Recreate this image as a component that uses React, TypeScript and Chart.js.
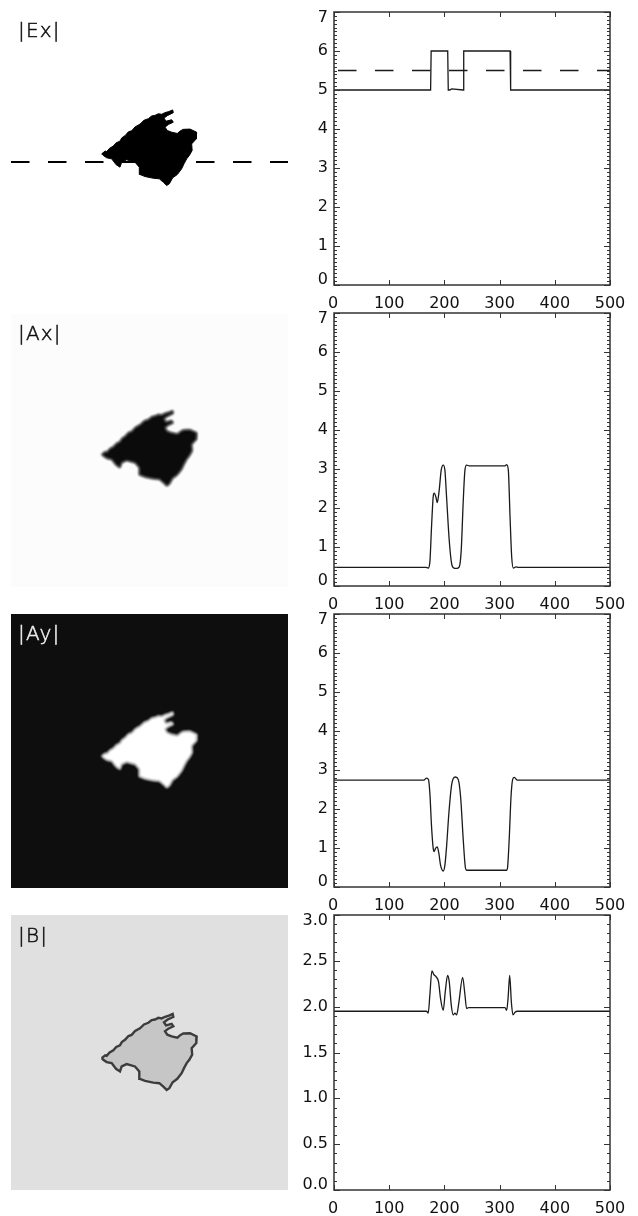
import React, { useEffect, useRef } from "react";
import { Chart, registerables } from "chart.js";

Chart.register(...registerables);

const xTicks = [0, 100, 200, 300, 400, 500];
const yTicksField = [0, 1, 2, 3, 4, 5, 6, 7];
const yTicksB = [0, 0.5, 1, 1.5, 2, 2.5, 3];

const exX = [0, 175, 176, 206, 207, 210, 213, 234, 235, 319, 320, 500];
const exY = [5, 5, 6, 6, 5, 5, 5.03, 5, 6, 6, 5, 5];
const cutX = [0, 500];
const cutY = [5.5, 5.5];

const axX = [0, 166.4, 170.6, 173.7, 176.7, 179.7, 181.5, 184.5, 187, 190.6, 194.2, 197.9, 200.9, 203.9, 208.7, 213, 217.2, 222, 226.9, 230.5, 234.2, 237.2, 240.2, 245, 309.8, 312.8, 315.8, 318.9, 321.9, 324.9, 329.7, 334, 500];
const axY = [0.48, 0.48, 0.46, 0.62, 1.52, 2.29, 2.38, 2.29, 2.14, 2.46, 2.97, 3.1, 2.97, 2.29, 1.18, 0.58, 0.46, 0.45, 0.49, 0.92, 2.2, 2.97, 3.1, 3.08, 3.08, 3.11, 2.97, 1.78, 0.75, 0.46, 0.49, 0.48, 0.48];

const ayX = [0, 162.8, 167.6, 171.2, 173.7, 176.7, 179.7, 181.5, 183.9, 187, 190, 193, 197.9, 200.9, 203.9, 208.1, 213, 216, 220.2, 225, 229.3, 234.2, 237.8, 240.2, 312.8, 314.6, 317.6, 320.7, 323.7, 326.7, 332.2, 500];
const ayY = [2.74, 2.74, 2.79, 2.75, 2.4, 1.55, 0.99, 0.91, 0.99, 1.03, 0.86, 0.56, 0.41, 0.56, 1.03, 1.89, 2.61, 2.78, 2.82, 2.76, 2.32, 1.2, 0.52, 0.43, 0.43, 0.52, 1.29, 2.32, 2.76, 2.81, 2.74, 2.74];

const bX = [0, 167.6, 170.7, 173.7, 177.3, 181, 185.8, 189.4, 193, 197.9, 201.5, 205.8, 208.8, 212.4, 216, 219.1, 222.1, 226.3, 233, 237.2, 240.2, 243.9, 309.8, 312.8, 315.3, 318.3, 321.3, 324.3, 328, 332.2, 500];
const bY = [1.95, 1.95, 1.93, 2.13, 2.39, 2.35, 2.32, 2.27, 2.09, 1.96, 2.16, 2.34, 2.27, 2.02, 1.91, 1.93, 1.91, 2.05, 2.32, 2.13, 1.98, 1.99, 1.99, 1.96, 2.09, 2.34, 2.05, 1.91, 1.94, 1.95, 1.95];

const islandX = [163.7, 170, 172.7, 178, 184.7, 190, 196.7, 200, 205.8, 212, 217.8, 224, 232.8, 240, 247.9, 254, 259.9, 266, 272, 278, 285, 291.8, 293, 282.2, 276.2, 279.8, 290, 293, 284, 278, 282.2, 290, 300.2, 306, 311.1, 323.1, 335.1, 334.5, 326.1, 327, 321.9, 317.1, 312.3, 308, 300.2, 291.8, 285.8, 281, 275, 267.7, 256.9, 241.9, 232.8, 231.6, 223.8, 208.8, 199.8, 196.7, 189.5, 181.7, 172.7, 166.6, 163.7];
const islandY = [255.2, 250, 251, 245, 241, 235, 232, 226, 222, 215, 213, 206, 201, 194, 191, 186, 185, 182, 183, 180, 178, 175, 180, 185.5, 190, 195.6, 193, 197.4, 201.7, 206.5, 212.6, 215.7, 218, 213, 210.5, 210, 215.7, 227.8, 237, 249, 258.2, 264.3, 273.4, 282.6, 292.9, 299, 309.9, 313, 307, 300.8, 299.7, 296.6, 292.9, 279.5, 270.4, 266.1, 270.4, 279.5, 274.7, 264.3, 262.4, 258.2, 255.2];
const sliceX = [0, 500];
const sliceY = [270, 270];

const titles = ["|Ex|", "|Ax|", "|Ay|", "|B|"];

const pts = (xs: number[], ys: number[]) => xs.map((x, i) => ({ x, y: ys[i] }));

const FRAME = "#333333";
const TICK_FONT = "16px 'DejaVu Sans'";

function profileChart(
  canvas: HTMLCanvasElement,
  datasets: any[],
  yMax: number,
  yTicks: number[],
  yDigits: number
) {
  const axisPlugin = {
    id: "idlAxes",
    afterDraw(chart: any) {
      const { ctx, chartArea: a, scales } = chart;
      const sx = scales.x;
      const sy = scales.y;
      ctx.save();
      ctx.strokeStyle = FRAME;
      ctx.lineWidth = 1;
      ctx.beginPath();
      const count = Math.round(yMax * 10);
      for (let i = 0; i <= count; i++) {
        const p = Math.round(sy.getPixelForValue(i / 10)) + 0.5;
        const major = yTicks.some((t) => Math.abs(t - i / 10) < 1e-6);
        const len = major ? 6 : 3;
        ctx.moveTo(a.left, p);
        ctx.lineTo(a.left + len, p);
        ctx.moveTo(a.right, p);
        ctx.lineTo(a.right - len, p);
      }
      for (const t of xTicks) {
        const p = Math.round(sx.getPixelForValue(t)) + 0.5;
        ctx.moveTo(p, a.top);
        ctx.lineTo(p, a.top + 5);
        ctx.moveTo(p, a.bottom);
        ctx.lineTo(p, a.bottom - 5);
      }
      ctx.stroke();
      ctx.lineWidth = 1.5;
      ctx.strokeRect(a.left, a.top, a.right - a.left, a.bottom - a.top);
      ctx.fillStyle = "#111111";
      ctx.font = TICK_FONT;
      ctx.textBaseline = "middle";
      ctx.textAlign = "right";
      for (const t of yTicks) {
        let p = sy.getPixelForValue(t);
        if (t === yMax) p += 5.5;
        if (t === 0) p -= 5;
        ctx.fillText(t.toFixed(yDigits), a.left - 6, p);
      }
      ctx.textAlign = "center";
      for (const t of xTicks) {
        ctx.fillText(String(t), sx.getPixelForValue(t) - (t === 0 ? 1 : 0), a.bottom + 19);
      }
      ctx.restore();
    },
  };
  return new Chart(canvas, {
    type: "line",
    data: { datasets },
    options: {
      animation: false,
      responsive: false,
      parsing: false,
      normalized: true,
      layout: { padding: { left: 34, right: 28, top: 12, bottom: 30 } },
      plugins: { legend: { display: false }, title: { display: false }, tooltip: { enabled: false } },
      elements: { point: { radius: 0 } },
      scales: {
        x: { type: "linear", min: 0, max: 500, display: false },
        y: { type: "linear", min: 0, max: yMax, display: false },
      },
    },
    plugins: [axisPlugin],
  } as any);
}

function imageChart(
  canvas: HTMLCanvasElement,
  opts: {
    bg: string;
    fill: string;
    border: string;
    borderWidth: number;
    blur: number;
    text: string;
    title: string;
    titleY: number;
    yShift: number;
    slice?: boolean;
  }
) {
  const panelPlugin = {
    id: "panel",
    beforeDatasetsDraw(chart: any) {
      const { ctx, chartArea: a } = chart;
      ctx.save();
      ctx.fillStyle = opts.bg;
      ctx.fillRect(a.left, a.top, a.right - a.left, a.bottom - a.top);
      if (opts.blur > 0) ctx.filter = `blur(${opts.blur}px)`;
    },
    afterDatasetsDraw(chart: any) {
      const { ctx } = chart;
      ctx.restore();
      ctx.save();
      ctx.fillStyle = opts.text;
      ctx.strokeStyle = opts.text;
      ctx.lineWidth = 0.5;
      ctx.font = "200 20px 'DejaVu Sans'";
      ctx.letterSpacing = "1.2px";
      ctx.textAlign = "left";
      ctx.textBaseline = "middle";
      ctx.fillText(opts.title, 7, opts.titleY);
      ctx.strokeText(opts.title, 7, opts.titleY);
      ctx.restore();
    },
  };
  const datasets: any[] = [
    {
      data: pts(islandX, islandY),
      borderColor: opts.border,
      borderWidth: opts.borderWidth,
      backgroundColor: opts.fill,
      fill: "shape",
      tension: 0,
      pointRadius: 0,
    },
  ];
  if (opts.slice) {
    datasets.push({
      data: pts(sliceX, sliceY),
      borderColor: "#000000",
      borderWidth: 2,
      borderDash: [18.5, 18.5],
      fill: false,
      pointRadius: 0,
    });
  }
  return new Chart(canvas, {
    type: "line",
    data: { datasets },
    options: {
      animation: false,
      responsive: false,
      parsing: false,
      normalized: false,
      layout: { padding: 0 },
      plugins: { legend: { display: false }, title: { display: false }, tooltip: { enabled: false } },
      scales: {
        x: { type: "linear", min: 0, max: 500, display: false },
        y: { type: "linear", min: opts.yShift, max: 500 + opts.yShift, reverse: true, display: false },
      },
    },
    plugins: [panelPlugin],
  } as any);
}

const imagePanels = [
  { top: 14, height: 274 },
  { top: 314, height: 273 },
  { top: 614, height: 274 },
  { top: 915, height: 275 },
];
const plotPanels = [
  { top: 12, height: 273 },
  { top: 313, height: 273 },
  { top: 614, height: 273 },
  { top: 915, height: 275 },
];

const line = (xs: number[], ys: number[]) => ({
  data: pts(xs, ys),
  borderColor: "#1a1a1a",
  borderWidth: 1.3,
  pointRadius: 0,
  fill: false,
  cubicInterpolationMode: "monotone",
});
const stepLine = (xs: number[], ys: number[]) => ({
  data: pts(xs, ys),
  borderColor: "#1a1a1a",
  borderWidth: 1.3,
  pointRadius: 0,
  fill: false,
});

export default function App() {
  const imgRefs = useRef<(HTMLCanvasElement | null)[]>([]);
  const plotRefs = useRef<(HTMLCanvasElement | null)[]>([]);

  useEffect(() => {
    const charts: Chart[] = [];
    const imgOpts = [
      { bg: "#ffffff", fill: "#000000", border: "#000000", borderWidth: 1, blur: 0, text: "#111111", titleY: 18, yShift: 0, slice: true },
      { bg: "#fcfcfc", fill: "#0b0b0b", border: "#0b0b0b", borderWidth: 1, blur: 1.1, text: "#111111", titleY: 21, yShift: -2 },
      { bg: "#0e0e0e", fill: "#ffffff", border: "#ffffff", borderWidth: 1, blur: 1.1, text: "#eeeeee", titleY: 21, yShift: -4 },
      { bg: "#e0e0e0", fill: "#c6c6c6", border: "#3c3c3c", borderWidth: 2.4, blur: 0.7, text: "#111111", titleY: 22, yShift: -5 },
    ];
    imgRefs.current.forEach((c, i) => {
      if (c) charts.push(imageChart(c, { ...imgOpts[i], title: titles[i] }));
    });
    const p = plotRefs.current;
    charts.push(
      profileChart(
        p[0]!,
        [
          stepLine(exX, exY),
          { ...stepLine(cutX, cutY), borderDash: [18.5, 18.5], borderDashOffset: -4 },
        ],
        7,
        yTicksField,
        0
      )
    );
    charts.push(profileChart(p[1]!, [line(axX, axY)], 7, yTicksField, 0));
    charts.push(profileChart(p[2]!, [line(ayX, ayY)], 7, yTicksField, 0));
    charts.push(profileChart(p[3]!, [line(bX, bY)], 3, yTicksB, 1));
    return () => charts.forEach((c) => c.destroy());
  }, []);

  return (
    <div style={{ position: "absolute", left: 0, top: 0, width: 638, height: 1216, background: "#ffffff", overflow: "hidden" }}>
      {imagePanels.map((p, i) => (
        <canvas
          key={"img" + i}
          ref={(el) => {
            imgRefs.current[i] = el;
          }}
          width={277}
          height={p.height}
          style={{ position: "absolute", left: 11, top: p.top, width: 277, height: p.height }}
        />
      ))}
      {plotPanels.map((p, i) => (
        <canvas
          key={"plot" + i}
          ref={(el) => {
            plotRefs.current[i] = el;
          }}
          width={338}
          height={p.height + 42}
          style={{ position: "absolute", left: 300, top: p.top - 12, width: 338, height: p.height + 42 }}
        />
      ))}
    </div>
  );
}
